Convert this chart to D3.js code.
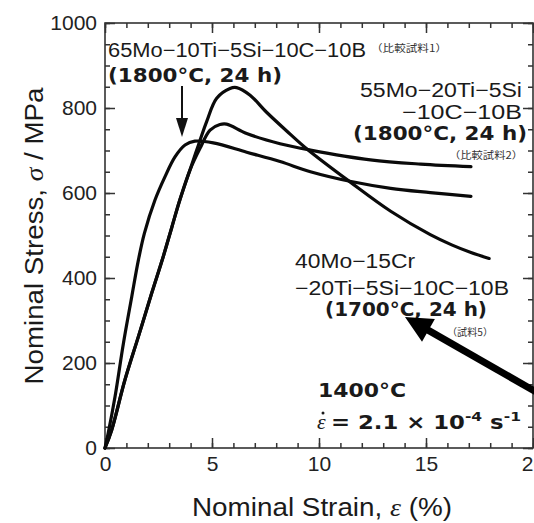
<!DOCTYPE html>
<html>
<head>
<meta charset="utf-8">
<script src="https://cdn.jsdelivr.net/npm/d3@7"></script>
<style>
  body { margin: 0; background: #fff; }
  svg { display: block; }
  .tick text { font-family: "Liberation Sans", Arial, sans-serif; font-size: 21px; fill: #222; }
  .tick line { stroke: #333; stroke-width: 1.5px; }
  .ann { font-family: "Liberation Sans", Arial, sans-serif; font-size: 20px; fill: #1a1a1a; }
  .annb { font-family: "DejaVu Sans", Verdana, sans-serif; font-weight: bold; font-size: 19px; fill: #1a1a1a; }
  .jp { font-family: "Noto Sans CJK JP", sans-serif; font-size: 10px; fill: #333; }
</style>
</head>
<body>
<script>
// 比較試料1 : 65Mo-10Ti-5Si-10C-10B (1800°C, 24 h)
var comp1Strain = [0, 0.15, 0.47, 0.86, 1.25, 1.56, 1.84, 2.34, 2.8, 3.27, 3.74, 4.2, 5.06, 6.62, 8.18, 9.6, 11.5, 13.35, 15.2, 17.1];
var comp1Stress = [0, 35, 121, 246, 356, 442, 505, 584, 638, 685, 713, 722, 718, 696, 674, 650, 627, 611, 601, 592];

// 比較試料2 : 55Mo-20Ti-5Si-10C-10B (1800°C, 24 h)
var comp2Strain = [0, 0.31, 0.93, 1.56, 2.18, 2.72, 3.12, 3.5, 3.97, 4.44, 4.91, 5.37, 5.68, 6.62, 8.18, 9.6, 12.4, 14.75, 17.1];
var comp2Stress = [0, 42, 160, 262, 364, 450, 519, 584, 654, 705, 748, 761, 762, 740, 716, 701, 678, 668, 662];

// 試料5 : 40Mo-15Cr-20Ti-5Si-10C-10B (1700°C, 24 h)
var s5Strain = [0, 0.31, 0.93, 1.56, 2.18, 2.72, 3.12, 3.5, 3.97, 4.36, 4.75, 5.22, 5.84, 6.15, 6.78, 7.55, 8.49, 9.45, 11.48, 13.35, 15.2, 16.2, 17.1, 17.95];
var s5Stress = [0, 42, 160, 262, 364, 450, 519, 584, 654, 712, 768, 823, 846, 848, 830, 790, 746, 703, 625, 557, 502, 478, 460, 446];

var xTicks = [0, 5, 10, 15, 20];
var yTicks = [0, 200, 400, 600, 800, 1000];

var width = 534,
    height = 523;
var margin = {left: 105, right: 1, top: 23, bottom: 75};

var svg = d3.select("body").append("svg")
    .attr("width", width)
    .attr("height", height);

var x = d3.scaleLinear()
    .domain([0, 20])
    .range([margin.left, width - margin.right]);

var y = d3.scaleLinear()
    .domain([0, 1000])
    .range([height - margin.bottom, margin.top]);

var x0 = x.range()[0], x1 = x.range()[1],
    y0 = y.range()[0], y1 = y.range()[1];

// minor ticks
svg.append("g").attr("transform", "translate(0," + y0 + ")")
  .call(d3.axisBottom(x).ticks(20).tickSize(-5).tickFormat(""));
svg.append("g").attr("transform", "translate(0," + y1 + ")")
  .call(d3.axisTop(x).ticks(20).tickSize(-5).tickFormat(""));
svg.append("g").attr("transform", "translate(" + x0 + ",0)")
  .call(d3.axisLeft(y).ticks(20).tickSize(-5).tickFormat(""));
svg.append("g").attr("transform", "translate(" + x1 + ",0)")
  .call(d3.axisRight(y).ticks(20).tickSize(-5).tickFormat(""));

// major ticks
svg.append("g").attr("transform", "translate(0," + y0 + ")")
  .call(d3.axisBottom(x).tickValues(xTicks).tickSize(-10).tickPadding(8).tickFormat(d3.format("d")));
svg.append("g").attr("transform", "translate(0," + y1 + ")")
  .call(d3.axisTop(x).tickValues(xTicks).tickSize(-10).tickFormat(""));
svg.append("g").attr("transform", "translate(" + x0 + ",0)")
  .call(d3.axisLeft(y).tickValues(yTicks).tickSize(-10).tickPadding(8).tickFormat(d3.format("d")));
svg.append("g").attr("transform", "translate(" + x1 + ",0)")
  .call(d3.axisRight(y).tickValues(yTicks).tickSize(-10).tickFormat(""));

svg.selectAll(".domain").remove();

// frame
svg.append("rect")
  .attr("x", x0).attr("y", y1)
  .attr("width", x1 - x0).attr("height", y0 - y1)
  .attr("fill", "none").attr("stroke", "#333").attr("stroke-width", 1.6);

// curves
var line = d3.line()
    .x(function(d) { return x(d[0]); })
    .y(function(d) { return y(d[1]); })
    .curve(d3.curveCatmullRom.alpha(0.5));

function pairs(a, b) { return a.map(function(v, i) { return [v, b[i]]; }); }

[pairs(comp1Strain, comp1Stress), pairs(comp2Strain, comp2Stress), pairs(s5Strain, s5Stress)]
  .forEach(function(d) {
    svg.append("path")
      .attr("d", line(d))
      .attr("fill", "none")
      .attr("stroke", "#0a0a0a")
      .attr("stroke-width", 3.2)
      .attr("stroke-linejoin", "round")
      .attr("stroke-linecap", "round");
  });

// axis titles
svg.append("text")
  .attr("transform", "translate(43," + 236 + ") rotate(-90)")
  .attr("text-anchor", "middle")
  .attr("textLength", 297).attr("lengthAdjust", "spacingAndGlyphs")
  .style("font-family", "Liberation Sans, Arial, sans-serif")
  .style("font-size", "25px").style("fill", "#1a1a1a")
  .call(function(t) {
    t.append("tspan").text("Nominal Stress, ");
    t.append("tspan").style("font-family", "Liberation Serif, serif").style("font-style", "italic").text("σ");
    t.append("tspan").text(" / MPa");
  });

svg.append("text")
  .attr("x", 322).attr("y", 516)
  .attr("text-anchor", "middle")
  .attr("textLength", 260).attr("lengthAdjust", "spacingAndGlyphs")
  .style("font-family", "Liberation Sans, Arial, sans-serif")
  .style("font-size", "25px").style("fill", "#1a1a1a")
  .call(function(t) {
    t.append("tspan").text("Nominal Strain, ");
    t.append("tspan").style("font-family", "Liberation Serif, serif").style("font-style", "italic").text("ε");
    t.append("tspan").text(" (%)");
  });

// annotations
function label(cls, tx, ty, str, anchor, len) {
  var t = svg.append("text").attr("class", cls)
    .attr("x", tx).attr("y", ty)
    .attr("text-anchor", anchor || "start")
    .text(str);
  if (len) t.attr("textLength", len).attr("lengthAdjust", "spacingAndGlyphs");
  return t;
}

label("ann", 108, 57, "65Mo−10Ti−5Si−10C−10B", "start", 258);
label("jp", 371, 52, "（比較試料1）", "start", 76);
label("annb", 108, 82, "(1800°C, 24 h)", "start", 174);

label("ann", 522, 97, "55Mo−20Ti−5Si", "end", 162);
label("ann", 522, 119, "−10C−10B", "end", 120);
label("annb", 527, 140, "(1800°C, 24 h)", "end", 174);
label("jp", 523, 159, "（比較試料2）", "end", 74);

label("ann", 295, 268, "40Mo−15Cr", "start", 120);
label("ann", 295, 295, "−20Ti−5Si−10C−10B", "start", 214);
label("annb", 325, 316, "(1700°C, 24 h)", "start", 162);
label("jp", 447, 336, "（試料5）", "start", 46);

label("annb", 318, 397, "1400°C", "start", 88);

// strain rate: ε with a dot above
svg.append("text")
  .attr("x", 317).attr("y", 429)
  .style("font-family", "Liberation Serif, serif").style("font-style", "italic")
  .style("font-size", "22px").style("fill", "#1a1a1a")
  .text("ε");
svg.append("circle")
  .attr("cx", 323).attr("cy", 413).attr("r", 1.5).attr("fill", "#1a1a1a");

var rate = svg.append("text").attr("class", "annb")
  .attr("x", 331).attr("y", 429)
  .attr("textLength", 190).attr("lengthAdjust", "spacingAndGlyphs");
rate.append("tspan").text("= 2.1 × 10");
rate.append("tspan").attr("dy", -8).style("font-size", "13px").text("-4");
rate.append("tspan").attr("dy", 8).text(" s");
rate.append("tspan").attr("dy", -8).style("font-size", "13px").text("-1");

// thin arrow for 比較試料1
svg.append("line")
  .attr("x1", 182).attr("y1", 86).attr("x2", 182).attr("y2", 122)
  .attr("stroke", "#111").attr("stroke-width", 2);
svg.append("path")
  .attr("d", "M176,118 L188,118 L182,137 Z")
  .attr("fill", "#111");

// thick arrow for 試料5
var tip = [405, 317], dir = [0.868, 0.495], hl = 27, hw = 13;
var base = [tip[0] + dir[0] * hl, tip[1] + dir[1] * hl];
svg.append("line")
  .attr("x1", base[0] - dir[0] * 2).attr("y1", base[1] - dir[1] * 2)
  .attr("x2", 545).attr("y2", 397)
  .attr("stroke", "#000").attr("stroke-width", 7);
svg.append("path")
  .attr("d", "M" + tip + " L" + [base[0] - dir[1] * hw, base[1] + dir[0] * hw] +
              " L" + [base[0] + dir[1] * hw, base[1] - dir[0] * hw] + " Z")
  .attr("fill", "#000");
</script>
</body>
</html>
